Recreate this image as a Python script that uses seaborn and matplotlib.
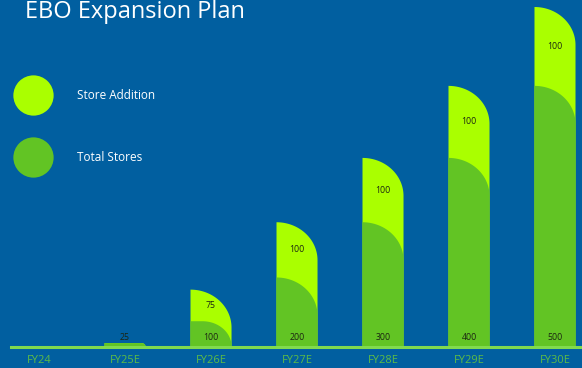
import numpy as np
import pandas as pd
import matplotlib
matplotlib.use("Agg")
import matplotlib.pyplot as plt
import seaborn as sns
from matplotlib.path import Path
from matplotlib.patches import PathPatch
from matplotlib.lines import Line2D

# Store rollout plan per fiscal year
categories = ["FY24", "FY25E", "FY26E", "FY27E", "FY28E", "FY29E", "FY30E"]
total_stores = [0, 25, 100, 200, 300, 400, 500]
store_addition = [0, 0, 75, 100, 100, 100, 100]
legend_labels = ["Store Addition", "Total Stores"]
title = "EBO Expansion Plan"

BG = "#015FA0"
LIME = "#AAFF00"
GREEN = "#62C424"
BASE = "#80DA4E"
TICK = "#5DBB46"
LABEL = "#1B2512"

df = pd.DataFrame({"period": categories, "total": total_stores, "addition": store_addition})
df["top"] = df["total"] + df["addition"]

sns.set_theme(style="white")
plt.rcParams["font.family"] = ["Open Sans", "DejaVu Sans"]

W, H = 582, 368
fig = plt.figure(figsize=(W / 100, H / 100), dpi=100, facecolor=BG)
ax = fig.add_axes([11 / W, 1 - 346.5 / H, 571 / W, 339.5 / H])
ax.set_facecolor(BG)

bar_w = 0.477
sns.barplot(data=df, x="period", y="top", color=LIME, width=bar_w,
            saturation=1, errorbar=None, ax=ax)
sns.barplot(data=df, x="period", y="total", color=GREEN, width=bar_w,
            saturation=1, errorbar=None, ax=ax)

# power scale on the value axis (hidden axis, bars grow faster toward later years)
POW = 1.45
fwd = lambda y: np.sign(y) * np.abs(y) ** POW
inv = lambda y: np.sign(y) * np.abs(y) ** (1 / POW)
ax.set_yscale("function", functions=(fwd, inv))
ax.set_xlim(-0.326, 6.314)
ax.set_ylim(0, 600)

# swap plain rectangles for bars with a rounded top-right corner
to_axes = ax.transAxes.inverted()
for r in list(ax.patches):
    h = r.get_height()
    x0, w = r.get_x(), r.get_width()
    fc = r.get_facecolor()
    r.remove()
    if h <= 0:
        continue
    (px0, py0), (px1, py1) = ax.transData.transform([(x0, 0), (x0 + w, h)])
    ph, pw = py1 - py0, px1 - px0
    ry = min(38.0, ph)
    rx = min(pw, ry * 1.15)
    t = np.linspace(np.pi / 2, 0, 40)
    cx, cy = px1 - rx, py1 - ry
    arc = np.column_stack([cx + rx * np.cos(t), cy + ry * np.sin(t)])
    verts = np.vstack([[px0, py0], [px0, py1], arc, [px1, py0], [px0, py0]])
    path = Path(to_axes.transform(verts), closed=True)
    ax.add_patch(PathPatch(path, transform=ax.transAxes, facecolor=fc,
                           edgecolor="none", zorder=1))

# value labels
for i, row in df.iterrows():
    if row["total"] > 0:
        ax.annotate(f"{row['total']}", xy=(i, 0), xytext=(0, 9.5 * 0.72),
                    textcoords="offset points", ha="center", va="center",
                    fontsize=6.3, color=LABEL)
    if row["addition"] > 0:
        ymid = inv((fwd(row["total"]) + fwd(row["top"])) / 2)
        ax.text(i, ymid, f"{row['addition']}", ha="center", va="center",
                fontsize=6.3, color=LABEL)

for s in ["left", "right", "top"]:
    ax.spines[s].set_visible(False)
ax.spines["bottom"].set_color(BASE)
ax.spines["bottom"].set_linewidth(2.2)
ax.set_yticks([])
ax.set_xlabel("")
ax.set_ylabel("")
ax.tick_params(axis="x", length=0, pad=6.3, labelsize=8, labelcolor=TICK)

handles = [
    Line2D([], [], marker="o", ls="", markersize=29, markerfacecolor=LIME,
           markeredgecolor="none", label=legend_labels[0]),
    Line2D([], [], marker="o", ls="", markersize=29, markerfacecolor=GREEN,
           markeredgecolor="none", label=legend_labels[1]),
]
fig.legend(handles=handles, loc="upper left",
           bbox_to_anchor=(16.5 / W, 1 - 84 / H),
           frameon=False, fontsize=8.5, labelcolor="white", handlelength=2.0,
           handletextpad=2.75, labelspacing=4.2, borderaxespad=0)

fig.text(25 / W, 1 - 18 / H, title, fontsize=17, color="white",
         ha="left", va="baseline")

fig.savefig("out.png", dpi=100, facecolor=BG)
